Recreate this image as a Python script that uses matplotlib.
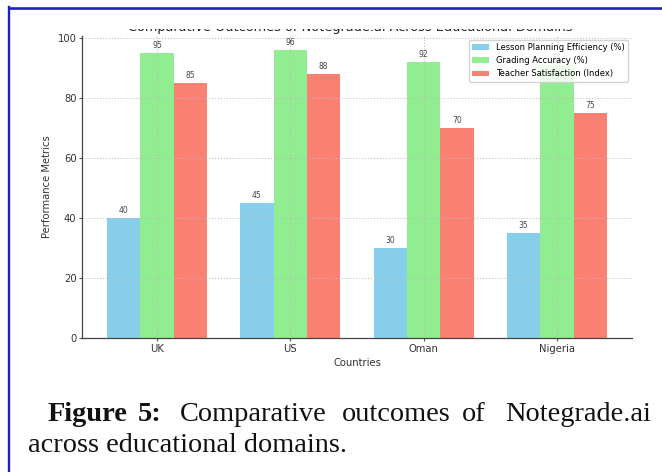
import matplotlib
matplotlib.use('Agg')
import matplotlib.pyplot as plt
import numpy as np
from matplotlib.lines import Line2D

# ---- data ----
countries = ['UK', 'US', 'Oman', 'Nigeria']
lesson_planning = [40, 45, 30, 35]
grading_accuracy = [95, 96, 92, 91]
teacher_satisfaction = [85, 88, 70, 75]
series_labels = ['Lesson Planning Efficiency (%)', 'Grading Accuracy (%)',
                 'Teacher Satisfaction (Index)']
series_colors = ['skyblue', 'lightgreen', 'salmon']
chart_title = 'Comparative Outcomes of Notegrade.ai Across Educational Domains'
x_label = 'Countries'
y_label = 'Performance Metrics'

W, H = 662, 472
fig = plt.figure(figsize=(W / 100, H / 100), dpi=100)
fig.patch.set_facecolor('white')


def fx(px):
    return px / W


def fy(py):
    return 1 - py / H


ax_left, ax_right, ax_bottom_px, ax_top_px = 82, 632, 338, 35.6
ax = fig.add_axes([fx(ax_left), fy(ax_bottom_px), (ax_right - ax_left) / W,
                   (ax_bottom_px - ax_top_px) / H])

x = np.arange(len(countries))
w = 0.25
all_series = [lesson_planning, grading_accuracy, teacher_satisfaction]
for i, (vals, lab, col) in enumerate(zip(all_series, series_labels, series_colors)):
    bars = ax.bar(x + (i - 1) * w, vals, w, label=lab, color=col)
    ax.bar_label(bars, labels=[str(v) for v in vals], padding=2,
                 fontsize=5.5, color='#444444')

ax.set_xticks(x)
ax.set_xticklabels(countries)
ax.set_xlabel(x_label, fontsize=7.2, color='#333333', labelpad=3)
ax.set_ylabel(y_label, fontsize=7.2, color='#333333', labelpad=4)
ax.tick_params(axis='both', labelsize=7.2, labelcolor='#333333', length=2.5,
               width=0.8, pad=1.5, color='#555555')
ax.grid(True, linestyle=':', color='#bbbbbb', linewidth=0.8, alpha=0.9)
for s in ['top', 'right']:
    ax.spines[s].set_visible(False)
for s in ['left', 'bottom']:
    ax.spines[s].set_color('#444444')
    ax.spines[s].set_linewidth(0.9)

leg = ax.legend(loc='upper right', fontsize=6, frameon=True, framealpha=0.85)
leg.get_frame().set_edgecolor('#cccccc')
leg.set_zorder(10)

# ---- partly cropped title: drawn inside a thin strip axes that clips it ----
fig.canvas.draw()
renderer = fig.canvas.get_renderer()
strip_top, strip_bot = 28.8, 35.0
tax = fig.add_axes([0, fy(strip_bot), 1, (strip_bot - strip_top) / H])
tax.set_xlim(0, W)
tax.set_ylim(strip_bot, strip_top)   # pixel coords, y downward
tax.patch.set_alpha(0)
tax.set_xticks([])
tax.set_yticks([])
for s in tax.spines.values():
    s.set_visible(False)
t = tax.text(350, 30.5, chart_title, ha='center', va='baseline', fontsize=10,
             color='#222222', clip_on=True)
bb = t.get_window_extent(renderer)
t.set_fontsize(10 * 445 / bb.width)

# ---- blue frame ----
frame_col = '#1f1fc8'
fig.add_artist(Line2D([fx(9.3), 1.0], [fy(7.8), fy(7.8)], transform=fig.transFigure,
                      color=frame_col, linewidth=1.9, zorder=30))
fig.add_artist(Line2D([fx(9.3), fx(9.3)], [fy(6.9), 0.0], transform=fig.transFigure,
                      color=frame_col, linewidth=1.7, zorder=30))

# ---- caption ----
serif = 'Liberation Serif'
line2 = 'across educational domains.'
t2 = fig.text(fx(28), fy(452), line2, ha='left', va='baseline', fontsize=20,
              family=serif, color='#111111')
bb2 = t2.get_window_extent(renderer)
cap_fs = 20 * 319 / bb2.width
t2.set_fontsize(cap_fs)

words = [('Figure', 48, 'bold'), ('5:', 138, 'bold'), ('Comparative', 180, 'normal'),
         ('outcomes', 342, 'normal'), ('of', 462, 'normal'), ('Notegrade.ai', 505, 'normal')]
for wd, xp, wt in words:
    fig.text(fx(xp), fy(421), wd, ha='left', va='baseline', fontsize=cap_fs,
             family=serif, fontweight=wt, color='#111111')

fig.savefig('out.png', dpi=100, facecolor='white')
